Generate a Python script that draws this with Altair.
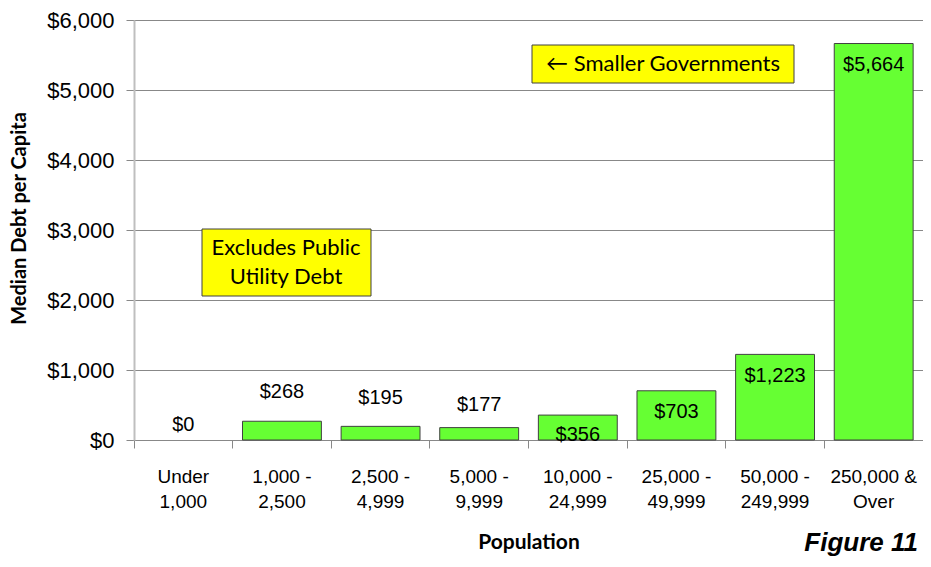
import altair as alt
import pandas as pd

categories = ["Under\n1,000", "1,000 -\n2,500", "2,500 -\n4,999", "5,000 -\n9,999",
              "10,000 -\n24,999", "25,000 -\n49,999", "50,000 -\n249,999", "250,000 &\nOver"]
values = [0, 268, 195, 177, 356, 703, 1223, 5664]
value_labels = ["$0", "$268", "$195", "$177", "$356", "$703", "$1,223", "$5,664"]
# pixel offsets of the value labels from the bar tops (styling)
label_dy = [-15, -29, -28, -23, 20, 21, 22, 21]
y_ticks = [0, 1000, 2000, 3000, 4000, 5000, 6000]
Y_MAX = 6000

df = pd.DataFrame({"cat": categories, "value": values, "label": value_labels, "dy": label_dy})

W, H = 789, 420
PX = Y_MAX / H  # data units per pixel

x_enc = alt.X("cat:N", sort=categories,
              scale=alt.Scale(paddingInner=0, paddingOuter=0),
              axis=alt.Axis(title="Population", labelExpr="split(datum.label, '\\n')",
                            labelAngle=0, bandPosition=0, tickSize=8, tickColor="#888888",
                            domainColor="#888888", labelFont="Liberation Sans",
                            labelFontSize=19, labelLineHeight=25, labelPadding=19, labelColor="#000000",
                            titleFont="Lato", titleFontSize=21, titleFontWeight="bold",
                            titlePadding=20, titleColor="#000000", grid=False))
y_enc = alt.Y("value:Q", scale=alt.Scale(domain=[0, Y_MAX], nice=False),
              axis=alt.Axis(title="Median Debt per Capita", values=y_ticks, format="$,.0f",
                            tickSize=8, tickColor="#888888", domainColor="#BFBFBF", domainWidth=2,
                            gridColor="#888888", labelFont="Liberation Sans", labelFontSize=22,
                            labelPadding=12, labelColor="#000000",
                            titleFont="Lato", titleFontSize=20, titleFontWeight="bold",
                            titleColor="#000000", titleX=-115, titleY=198,
                            titleBaseline="middle", titleAngle=270))

base = alt.Chart(df)
bars = base.mark_bar(color="#66FF33", stroke="#404040", strokeWidth=1,
                     width=alt.RelativeBandSize(0.8)).encode(
    x=x_enc, y=y_enc,
    strokeOpacity=alt.condition(alt.datum.value == 0, alt.value(0), alt.value(1)))
labels = base.transform_calculate(
    label_pos=f"datum.value - datum.dy * {PX}"
).mark_text(font="Liberation Sans", fontSize=20, baseline="middle", color="#000000").encode(
    x=alt.X("cat:N", sort=categories),
    y=alt.Y("label_pos:Q"),
    text="label:N")

box_df = pd.DataFrame({"k": [0]})
box1 = alt.Chart(box_df).mark_rect(fill="#FFFF00", stroke="#404040", strokeWidth=1).encode(
    x=alt.value(398), x2=alt.value(660), y=alt.value(25), y2=alt.value(63))
box1_text = alt.Chart(box_df).mark_text(font="Lato", fontSize=22, color="#000000").encode(
    x=alt.value(529), y=alt.value(44), text=alt.value("← Smaller Governments"))
box2 = alt.Chart(box_df).mark_rect(fill="#FFFF00", stroke="#404040", strokeWidth=1).encode(
    x=alt.value(68), x2=alt.value(237), y=alt.value(209), y2=alt.value(276))
box2_text = alt.Chart(box_df).mark_text(font="Lato", fontSize=22, color="#000000", lineHeight=29).encode(
    x=alt.value(152), y=alt.value(228), text=alt.value(["Excludes Public", "Utility Debt"]))
fig = alt.Chart(box_df).mark_text(font="Liberation Sans", fontSize=26, fontWeight="bold",
                                  fontStyle="italic", align="right", baseline="alphabetic",
                                  color="#000000").encode(
    x=alt.value(784), y=alt.value(531), text=alt.value("Figure 11"))

chart = alt.layer(bars, labels, box1, box1_text, box2, box2_text, fig).properties(
    width=W, height=H,
    autosize=alt.AutoSizeParams(type="none"),
    padding={"left": 126, "top": 12, "right": 0, "bottom": 119},
).configure_view(stroke=None).configure(background="white")

chart.save("out.html", embed_options={"renderer": "svg", "actions": False})
